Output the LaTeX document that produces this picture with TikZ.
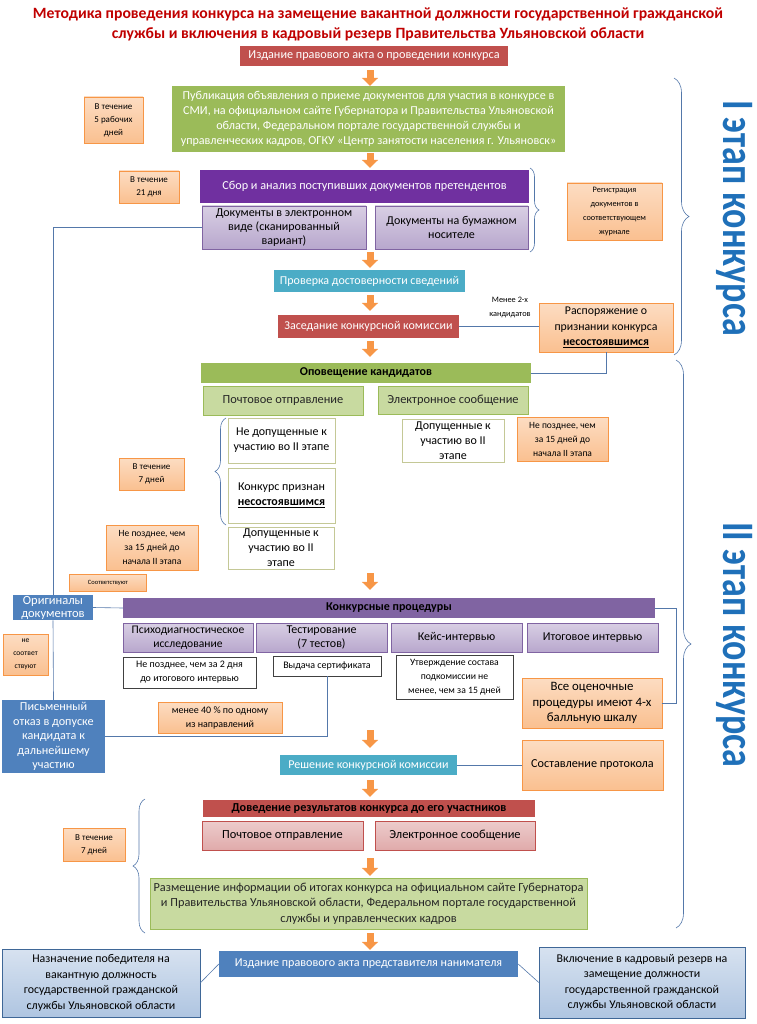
\documentclass[tikz,border=0pt]{standalone}
\usepackage{fontspec}
\setmainfont{Carlito}
\usetikzlibrary{arrows.meta,decorations.pathreplacing}

\definecolor{titlered}{RGB}{192,0,0}
\definecolor{redbox}{RGB}{192,80,77}
\definecolor{greenbox}{RGB}{155,187,89}
\definecolor{lightgreen}{RGB}{200,218,160}
\definecolor{purplebox}{RGB}{112,48,160}
\definecolor{violetbox}{RGB}{128,100,162}
\definecolor{lavender}{RGB}{184,167,205}
\definecolor{tealbox}{RGB}{75,172,198}
\definecolor{bluebox}{RGB}{79,129,189}
\definecolor{lightblue}{RGB}{175,197,225}
\definecolor{peach}{RGB}{250,192,144}
\definecolor{peachline}{RGB}{247,150,70}
\definecolor{pinkbox}{RGB}{224,170,170}
\definecolor{wireblue}{RGB}{84,120,170}
\definecolor{stageblue}{RGB}{31,112,185}
\definecolor{khaki}{RGB}{196,200,150}

\newcommand{\fs}[2]{\fontsize{#1}{#2}\selectfont}

\begin{document}
\begin{tikzpicture}[
    x=1pt, y=-1pt,
    box/.style={rectangle, inner sep=1pt, align=center, font=\fs{12}{14.5}},
    redbar/.style={box, fill=redbox, text=white},
    greenbar/.style={box, fill=greenbox, text=white},
    purplebar/.style={box, fill=purplebox, text=white},
    tealbar/.style={box, fill=tealbox, text=white},
    bluebar/.style={box, fill=bluebox, text=white},
    lavbox/.style={box, draw=violetbox, top color=lavender!55, bottom color=lavender, font=\fs{12}{14}},
    lgbox/.style={box, draw=greenbox, fill=lightgreen, text=black!85},
    pinkcell/.style={box, draw=redbox, top color=pinkbox!60, bottom color=pinkbox, font=\fs{12.4}{14}},
    lbbox/.style={box, draw=bluebox!80!black, top color=lightblue!50, bottom color=lightblue, font=\fs{11.9}{15.5}},
    whitebox/.style={box, draw=khaki, fill=white, font=\fs{12}{15}},
    notebox/.style={box, draw=black!75, fill=white, font=\fs{10}{14}},
    timing/.style={box, draw=peachline, top color=peach!55, bottom color=peach, font=\fs{9}{13}},
    wire/.style={draw=wireblue, line width=0.6pt},
    brace/.style={wire, decorate, decoration={brace, amplitude=#1}},
    flow/.style={draw=peachline, line width=7pt, -{Triangle[width=16pt, length=8pt]}},
    stage/.style={font=\fs{36}{36}\bfseries, text=stageblue, yscale=1.25}
]
\useasboundingbox (0,0) rectangle (756,1024);
\coordinate (ax) at (370,0);

% Title
\node[font=\fs{15.7}{20}\bfseries, text=titlered, align=center] (title) at (378,24)
  {Методика проведения конкурса на замещение вакантной должности государственной гражданской\\
   службы и включения в кадровый резерв Правительства Ульяновской области};

% Stage I
\node[redbar, minimum width=268, minimum height=20, font=\fs{12.2}{14}] (izd) at (374,56) {Издание правового акта о проведении конкурса};
\node[greenbar, minimum width=393, minimum height=66, font=\fs{12.1}{15}] (pub) at (368.5,119)
  {Публикация объявления о приеме документов для участия в конкурсе в\\
   СМИ, на официальном сайте Губернатора и Правительства Ульяновской\\
   области, Федеральном портале государственной службы и\\
   управленческих кадров, ОГКУ «Центр занятости населения г. Ульяновск»};
\node[timing, minimum width=59, minimum height=46] (t5) at (113.5,120) {В течение\\5 рабочих\\дней};

\node[purplebar, minimum width=329, minimum height=33, font=\fs{12.2}{14}] (sbor) at (364.5,186.5) {Сбор и анализ поступивших документов претендентов};
\node[timing, minimum width=60, minimum height=32] (t21) at (149,187) {В течение\\21 дня};
\node[lavbox, minimum width=164, minimum height=43] (docE) at (284,227.5) {Документы в электронном\\виде (сканированный\\вариант)};
\node[lavbox, minimum width=153, minimum height=43] (docP) at (451.5,227.5) {Документы на бумажном\\носителе};
\node[timing, minimum width=95, minimum height=57, font=\fs{8.3}{14}] (reg) at (614.5,211.5) {Регистрация\\документов в\\соответствующем\\журнале};

\node[tealbar, minimum width=191, minimum height=22] (prov) at (369.5,281) {Проверка достоверности сведений};
\node[redbar, minimum width=181, minimum height=23] (zas) at (368.5,326.5) {Заседание конкурсной комиссии};
\node[align=center, font=\fs{8.3}{14}] (less2) at (510,307) {Менее 2-х\\кандидатов};
\node[timing, minimum width=134, minimum height=49, font=\fs{11.8}{15.5}] (rasp) at (606,327.5)
  {Распоряжение о\\признании конкурса\\\underline{\textbf{несостоявшимся}}};

% Stage II
\node[box, fill=greenbox, font=\fs{12}{14}\bfseries, minimum width=330, minimum height=20] (opov) at (366,373) {Оповещение кандидатов};
\node[lgbox, minimum width=160, minimum height=29, font=\fs{12.4}{14}] (pochtA) at (283,400.5) {Почтовое отправление};
\node[lgbox, minimum width=150, minimum height=28, font=\fs{12.4}{14}] (elecA) at (453,400) {Электронное сообщение};
\node[whitebox, minimum width=107, minimum height=45] (nedop) at (281.5,440.5) {Не допущенные к\\участию во II этапе};
\node[whitebox, minimum width=107, minimum height=55] (priz) at (281.5,495.5) {Конкурс признан\\\underline{\textbf{несостоявшимся}}};
\node[whitebox, minimum width=106, minimum height=42] (dopA) at (281,548) {Допущенные к\\участию во II\\этапе};
\node[whitebox, minimum width=102, minimum height=43] (dopB) at (453,440.5) {Допущенные к\\участию во II\\этапе};
\node[timing, minimum width=91, minimum height=44, font=\fs{9.5}{14}] (t15a) at (562.5,439) {Не позднее, чем\\за 15 дней до\\начала II этапа};
\node[timing, minimum width=65, minimum height=32] (t7a) at (151.5,474) {В течение\\7 дней};
\node[timing, minimum width=92, minimum height=45, font=\fs{9.5}{14}] (t15b) at (152,547.5) {Не позднее, чем\\за 15 дней до\\начала II этапа};
\node[timing, minimum width=77, minimum height=17, font=\fs{6.5}{9}] (sootv) at (108,582.5) {Соответствуют};

\node[bluebar, minimum width=80, minimum height=25, font=\fs{12.5}{13}] (orig) at (53,607.5) {Оригиналы\\документов};
\node[box, fill=violetbox, font=\fs{12}{14}\bfseries, minimum width=532, minimum height=20] (konk) at (389,608) {Конкурсные процедуры};
\node[lavbox, minimum width=130, minimum height=29, font=\fs{11.6}{14}] (psy) at (188,637.5) {Психодиагностическое\\исследование};
\node[lavbox, minimum width=131, minimum height=29] (test) at (321.5,637.5) {Тестирование\\(7 тестов)};
\node[lavbox, minimum width=131, minimum height=29] (keis) at (456.5,637.5) {Кейс-интервью};
\node[lavbox, minimum width=131, minimum height=29] (itog) at (592.5,637.5) {Итоговое интервью};
\node[notebox, minimum width=133, minimum height=31] (ne2) at (189.5,672.5) {Не позднее, чем за 2 дня\\до итогового интервью};
\node[notebox, minimum width=108, minimum height=20] (vyd) at (327,666) {Выдача сертификата};
\node[notebox, minimum width=117, minimum height=44, font=\fs{9.7}{14}] (utv) at (454.5,677) {Утверждение состава\\подкомиссии не\\менее, чем за 15 дней};
\node[timing, minimum width=140, minimum height=50, font=\fs{12.8}{15.5}] (vse) at (592,703) {Все оценочные\\процедуры имеют 4-х\\балльную шкалу};
\node[timing, minimum width=124, minimum height=31, font=\fs{10}{14}] (t40) at (220,717.5) {менее 40 \% по одному\\из направлений};
\node[timing, minimum width=45, minimum height=41, font=\fs{7.6}{13}] (nesoot) at (25.5,654.5) {не\\соответ\\ствуют};
\node[bluebar, minimum width=103, minimum height=73, font=\fs{12.2}{14.5}] (pism) at (53.5,736.5) {Письменный\\отказ в допуске\\кандидата к\\дальнейшему\\участию};

\node[tealbar, minimum width=177, minimum height=20] (resh) at (368.5,765) {Решение конкурсной комиссии};
\node[timing, minimum width=141, minimum height=50, font=\fs{12.2}{14}] (sost) at (592.5,765) {Составление протокола};

\node[redbar, text=black, font=\fs{12.2}{14}\bfseries, minimum width=332, minimum height=17] (dov) at (369,808.5) {Доведение результатов конкурса до его участников};
\node[pinkcell, minimum width=161, minimum height=29] (pochtB) at (282.5,835.5) {Почтовое отправление};
\node[pinkcell, minimum width=160, minimum height=29] (elecB) at (455,835.5) {Электронное сообщение};
\node[timing, minimum width=62, minimum height=33] (t7b) at (94,844.5) {В течение\\7 дней};
\node[lgbox, minimum width=437, minimum height=51, font=\fs{12.3}{15.5}] (razm) at (368.5,903.5)
  {Размещение информации об итогах конкурса на официальном сайте Губернатора\\
   и Правительства Ульяновской области, Федеральном портале государственной\\
   службы и управленческих кадров};

\node[bluebar, minimum width=299, minimum height=26, font=\fs{12.1}{14}] (izd2) at (368.5,964) {Издание правового акта представителя нанимателя};
\node[lbbox, minimum width=198, minimum height=68] (nazn) at (101,983) {Назначение победителя на\\вакантную должность\\государственной гражданской\\службы Ульяновской области};
\node[lbbox, minimum width=206, minimum height=71] (vkl) at (642,982.5) {Включение в кадровый резерв на\\замещение должности\\государственной гражданской\\службы Ульяновской области};

% Stage captions
\node[rotate=-90, stage] (st1) at (735,218) {I этап конкурса};
\node[rotate=-90, stage] (st2) at (735,645) {II этап конкурса};

% Flow arrows
\draw[flow, shorten <=4pt] (izd.south -| ax) -- (pub.north -| ax);
\draw[flow, shorten <=1pt, shorten >=2pt] (pub.south -| ax) -- (sbor.north -| ax);
\draw[flow, shorten <=3pt, shorten >=2pt] (docE.south -| ax) -- (prov.north -| ax);
\draw[flow, shorten <=3pt, shorten >=4pt] (prov.south -| ax) -- (zas.north -| ax);
\draw[flow, shorten <=3pt, shorten >=6pt] (zas.south -| ax) -- (opov.north -| ax);
\draw[flow, shorten <=4pt, shorten >=8pt] (dopA.south -| ax) -- (konk.north -| ax);
\draw[flow, shorten <=31pt, shorten >=7pt] (utv.south -| ax) -- (resh.north -| ax);
\draw[flow, shorten <=5pt, shorten >=3pt] (resh.south -| ax) -- (dov.north -| ax);
\draw[flow, shorten <=8pt, shorten >=2pt] (elecB.south -| ax) -- (razm.north -| ax);
\draw[flow, shorten <=4pt, shorten >=1pt] (razm.south -| ax) -- (izd2.north -| ax);

% Connectors
\draw[wire] (docE.west) -| (orig.north);
\draw[wire] (orig.south) -- (pism.north);
\draw[wire] (orig.east) -- (konk.west);
\draw[wire] (vyd.south) |- (pism.east);
\draw[wire] (zas.east) -- (zas.east -| rasp.west);
\draw[wire] (rasp.south) |- (opov.east);
\draw[wire] (konk.east) -- ++(21,0) |- (vse.east);
\draw[wire] (resh.east) -- (sost.west);
\draw[wire] (izd2.west) -- (nazn.east);
\draw[wire] (izd2.east) -- (vkl.west);

% Braces
\draw[brace=9pt] (530,168) -- (530,252);
\draw[brace=15pt] (674,78) -- (674,355);
\draw[brace=15pt] (676,360) -- (676,928);
\draw[brace=11pt] (226,525) -- (226,418);
\draw[brace=12pt] (145,933) -- (145,799);

\end{tikzpicture}
\end{document}
